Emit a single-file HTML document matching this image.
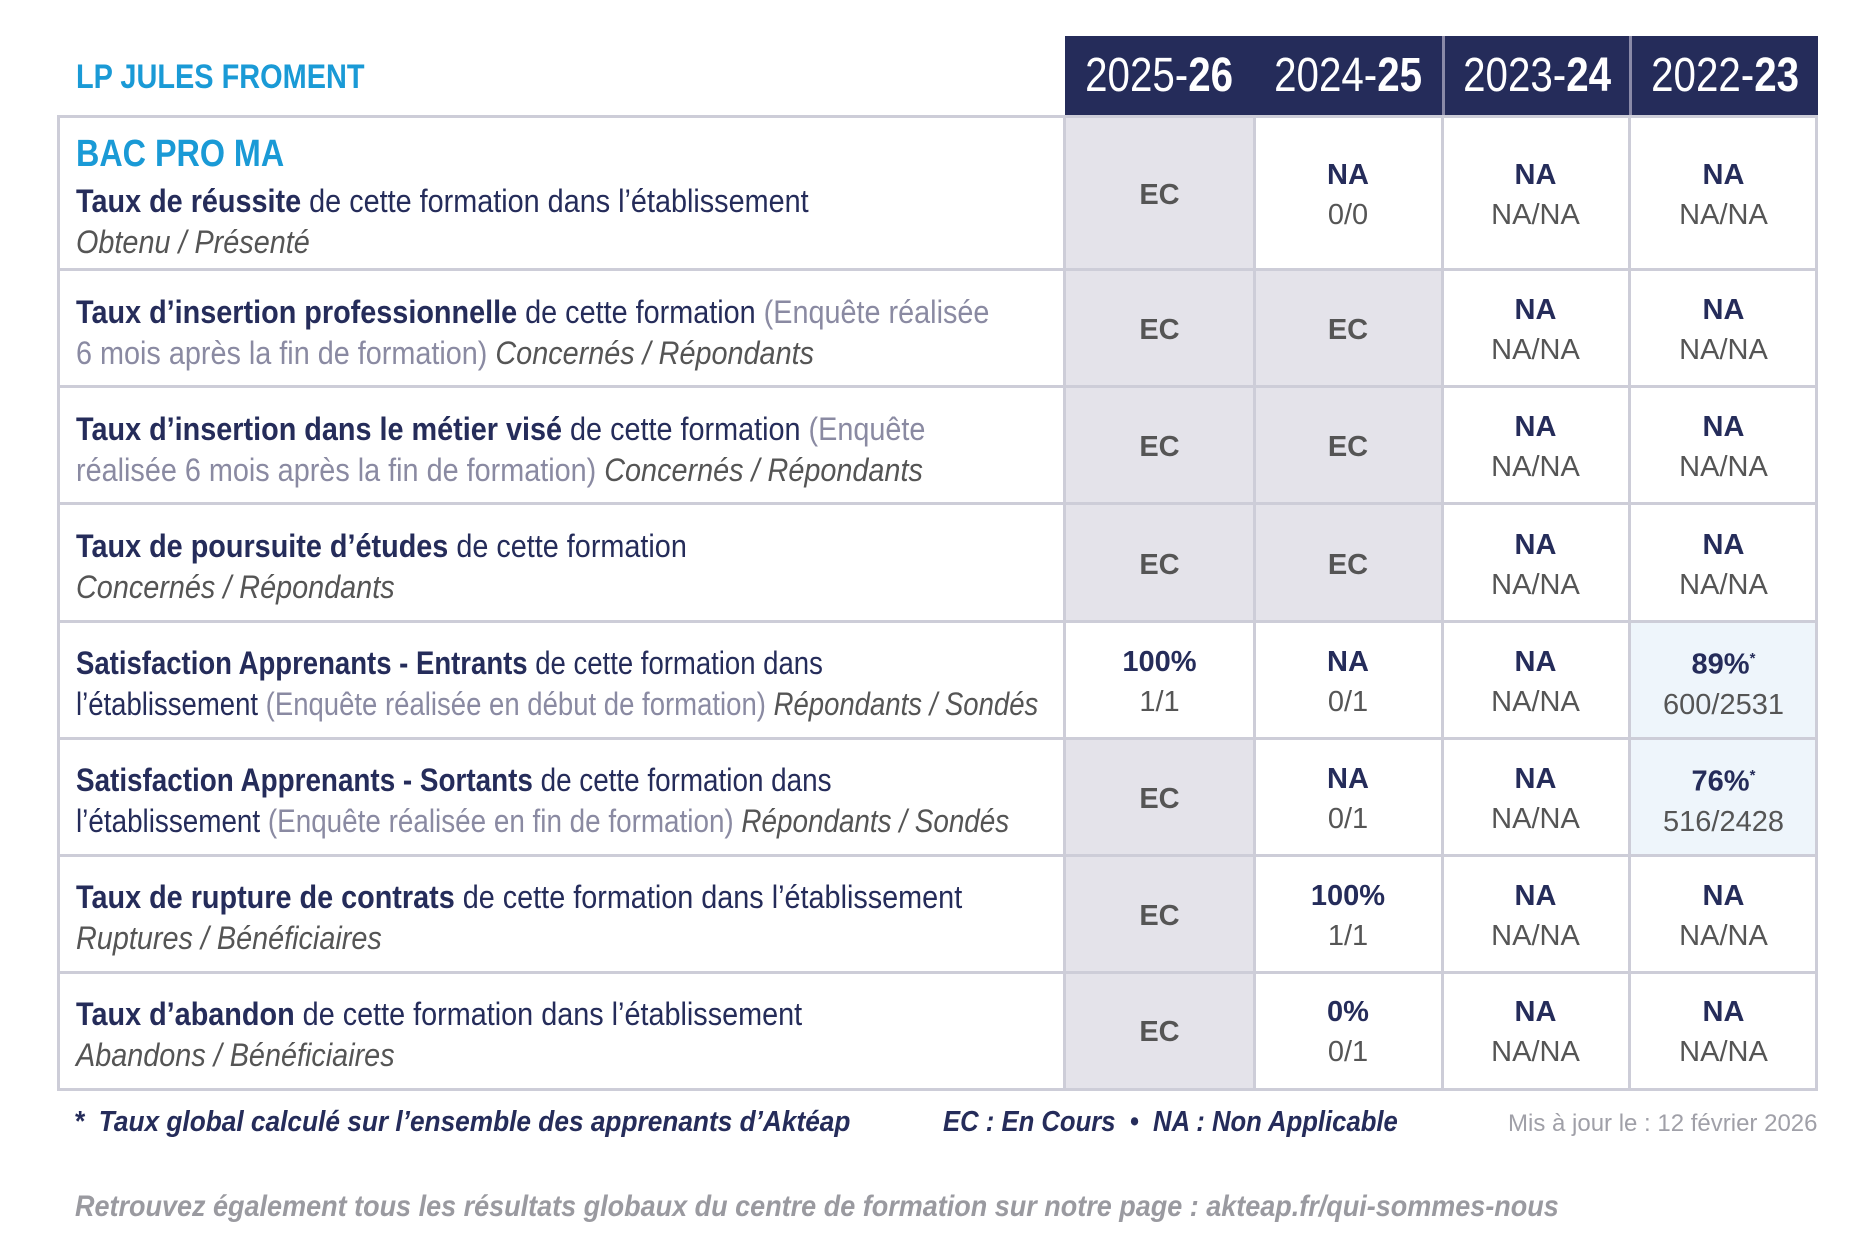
<!DOCTYPE html>
<html><head><meta charset="utf-8"><style>
body{margin:0;width:1875px;height:1250px;background:#fff;position:relative;overflow:hidden;font-family:"Liberation Sans",sans-serif;color:#252c5a}
.a{position:absolute}
.hdr{background:#252c5a;color:#fff;font-size:48px;line-height:80px;top:36px;height:80px;white-space:nowrap}
.hdr span{display:inline-block;transform:scaleX(0.84);}
.row{left:58px;width:1760px;height:3px;background:#cdcdd8}
.lab{left:76px;font-size:32px;line-height:41px;white-space:nowrap;transform:scaleX(0.9);transform-origin:0 0}
.g{color:#8a8aa2}
.i{font-style:italic;color:#555;}
.cell{text-align:center;font-size:29px;line-height:40px;display:flex;flex-direction:column;justify-content:center;padding-top:4px;box-sizing:border-box}
.ec{color:#555;font-weight:bold}
.sub{color:#555}
</style></head><body>
<div class="a" style="left:76px;top:58px;font-size:34px;font-weight:bold;color:#1a9ad6;transform:scaleX(0.85);transform-origin:0 0">LP JULES FROMENT</div>
<div class="a hdr" style="left:1065px;width:377px;"><div style="display:inline-block;width:189px;text-align:center"><span>2025-<b>26</b></span></div><div style="display:inline-block;width:188px;text-align:center"><span>2024-<b>25</b></span></div></div>
<div class="a hdr" style="left:1442px;width:187px;border-left:3px solid #8a8aa8;box-sizing:border-box;text-align:center"><span>2023-<b>24</b></span></div>
<div class="a hdr" style="left:1629px;width:189px;border-left:3px solid #8a8aa8;box-sizing:border-box;text-align:center"><span>2022-<b>23</b></span></div>

<div class="a" style="left:1065px;top:116px;width:189px;height:505px;background:#e4e3ea"></div>
<div class="a" style="left:1065px;top:738px;width:189px;height:351px;background:#e4e3ea"></div>
<div class="a" style="left:1254px;top:269px;width:188px;height:352px;background:#e4e3ea"></div>
<div class="a" style="left:1629px;top:621px;width:189px;height:234px;background:#eef5fb"></div>

<div class="a row" style="top:115px"></div>
<div class="a row" style="top:268px"></div>
<div class="a row" style="top:385px"></div>
<div class="a row" style="top:502px"></div>
<div class="a row" style="top:620px"></div>
<div class="a row" style="top:737px"></div>
<div class="a row" style="top:854px"></div>
<div class="a row" style="top:971px"></div>
<div class="a row" style="top:1088px"></div>
<div class="a" style="left:57px;top:115px;width:3px;height:976px;background:#cdcdd8"></div>
<div class="a" style="left:1063px;top:115px;width:3px;height:976px;background:#cdcdd8"></div>
<div class="a" style="left:1253px;top:115px;width:3px;height:976px;background:#cdcdd8"></div>
<div class="a" style="left:1441px;top:115px;width:3px;height:976px;background:#cdcdd8"></div>
<div class="a" style="left:1628px;top:115px;width:3px;height:976px;background:#cdcdd8"></div>
<div class="a" style="left:1815px;top:115px;width:3px;height:976px;background:#cdcdd8"></div>

<div class="a" style="left:76px;top:133px;font-size:38px;font-weight:bold;color:#1a9ad6;transform:scaleX(0.85);transform-origin:0 0">BAC PRO MA</div>
<div class="a lab" style="top:181px"><b>Taux de réussite</b> de cette formation dans l’établissement<br><span class="i">Obtenu / Présenté</span></div>
<div class="a lab" style="top:292px"><b>Taux d’insertion professionnelle</b> de cette formation <span class="g">(Enquête réalisée</span><br><span class="g">6 mois après la fin de formation)</span> <span class="i">Concernés / Répondants</span></div>
<div class="a lab" style="top:409px"><b>Taux d’insertion dans le métier visé</b> de cette formation <span class="g">(Enquête</span><br><span class="g">réalisée 6 mois après la fin de formation)</span> <span class="i">Concernés / Répondants</span></div>
<div class="a lab" style="top:526px"><b>Taux de poursuite d’études</b> de cette formation<br><span class="i">Concernés / Répondants</span></div>
<div class="a lab" style="top:643px;transform:scaleX(0.86)"><b>Satisfaction Apprenants - Entrants</b> de cette formation dans<br>l’établissement <span class="g">(Enquête réalisée en début de formation)</span> <span class="i">Répondants / Sondés</span></div>
<div class="a lab" style="top:760px;transform:scaleX(0.87)"><b>Satisfaction Apprenants - Sortants</b> de cette formation dans<br>l’établissement <span class="g">(Enquête réalisée en fin de formation)</span> <span class="i">Répondants / Sondés</span></div>
<div class="a lab" style="top:877px"><b>Taux de rupture de contrats</b> de cette formation dans l’établissement<br><span class="i">Ruptures / Bénéficiaires</span></div>
<div class="a lab" style="top:994px"><b>Taux d’abandon</b> de cette formation dans l’établissement<br><span class="i">Abandons / Bénéficiaires</span></div>

<div id="cells"></div>
<script>
var rt=[118,271,388,505,623,740,857,974,1089];
var cols=[1065,1254,1442,1629,1818];
var data=[
["EC",["NA","0/0"],["NA","NA/NA"],["NA","NA/NA"]],
["EC","EC",["NA","NA/NA"],["NA","NA/NA"]],
["EC","EC",["NA","NA/NA"],["NA","NA/NA"]],
["EC","EC",["NA","NA/NA"],["NA","NA/NA"]],
[["100%","1/1"],["NA","0/1"],["NA","NA/NA"],["89%<sup style='font-size:15px'>*</sup>","600/2531"]],
["EC",["NA","0/1"],["NA","NA/NA"],["76%<sup style='font-size:15px'>*</sup>","516/2428"]],
["EC",["100%","1/1"],["NA","NA/NA"],["NA","NA/NA"]],
["EC",["0%","0/1"],["NA","NA/NA"],["NA","NA/NA"]]];
var h="";
for(var r=0;r<8;r++)for(var c=0;c<4;c++){var d=data[r][c];
var inner=typeof d=="string"?"<span class='ec'>EC</span>":"<b>"+d[0]+"</b><span class='sub'>"+d[1]+"</span>";
h+="<div class='a cell' style='left:"+cols[c]+"px;width:"+(cols[c+1]-cols[c])+"px;top:"+rt[r]+"px;height:"+(rt[r+1]-rt[r]-3)+"px'>"+inner+"</div>";}
document.getElementById("cells").innerHTML=h;
</script>

<div class="a" style="left:74px;top:1106px;font-size:29px;font-weight:bold;font-style:italic;color:#252c5a;white-space:nowrap;transform:scaleX(0.905);transform-origin:0 0">* &nbsp;Taux global calculé sur l’ensemble des apprenants d’Aktéap</div>
<div class="a" style="left:943px;top:1106px;font-size:29px;font-weight:bold;font-style:italic;color:#252c5a;white-space:nowrap;transform:scaleX(0.885);transform-origin:0 0">EC : En Cours &nbsp;•&nbsp; NA : Non Applicable</div>
<div class="a" style="left:1508px;top:1110px;font-size:24px;color:#a0a0a8;white-space:nowrap">Mis à jour le : 12 février 2026</div>
<div class="a" style="left:75px;top:1190px;font-size:30px;font-weight:bold;font-style:italic;color:#9a9aa0;white-space:nowrap;transform:scaleX(0.9);transform-origin:0 0">Retrouvez également tous les résultats globaux du centre de formation sur notre page : akteap.fr/qui-sommes-nous</div>
</body></html>
